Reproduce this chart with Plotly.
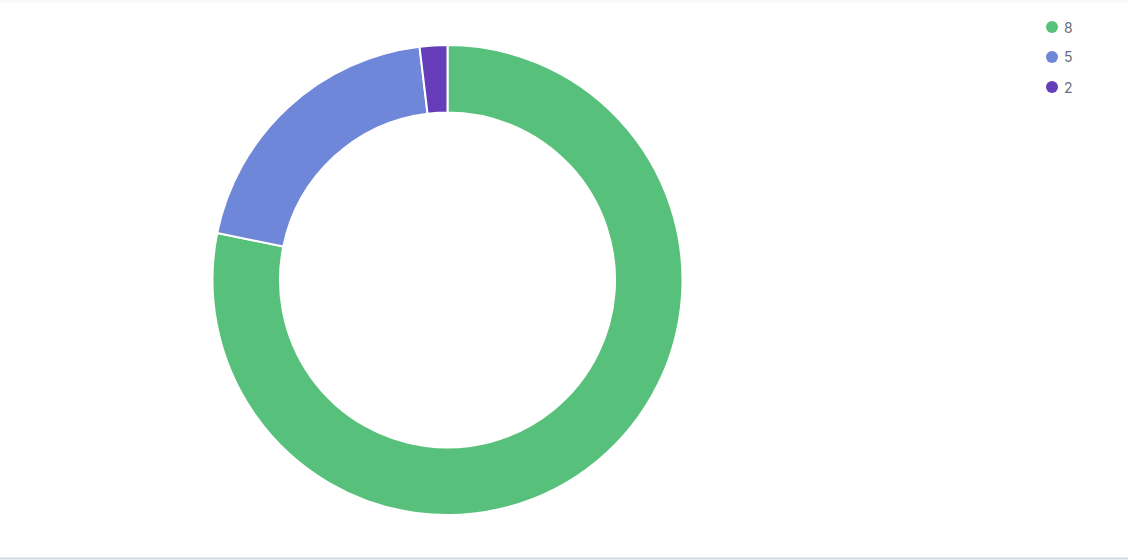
import plotly.graph_objects as go

labels = ["8", "5", "2"]
values = [78.2, 19.9, 1.9]
colors = ["#57C17B", "#6F87D8", "#663DB8"]

W, H = 1128, 560
cx, cy, r = 447.5, 280, 235

fig = go.Figure()
fig.add_trace(go.Pie(
    labels=labels, values=values, sort=False, direction="clockwise", rotation=0,
    hole=0.713, marker=dict(colors=colors, line=dict(color="white", width=2)),
    textinfo="none", hoverinfo="label+value", showlegend=False,
    domain=dict(x=[(cx - r) / W, (cx + r) / W], y=[(H - cy - r) / H, (H - cy + r) / H]),
))

shapes = [
    dict(type="rect", xref="paper", yref="paper", x0=0, x1=1, y0=1 - 3 / H, y1=1,
         fillcolor="#F8F9FC", line=dict(width=0), layer="below"),
    dict(type="line", xref="paper", yref="paper", x0=0, x1=1, y0=1.5 / H, y1=1.5 / H,
         line=dict(color="#D3DAE6", width=2)),
]
annotations = []
for i, (lab, col) in enumerate(zip(labels, colors)):
    yc = 27 + 30 * i
    shapes.append(dict(type="circle", xref="paper", yref="paper",
                       x0=(1052 - 6) / W, x1=(1052 + 6) / W,
                       y0=1 - (yc + 6) / H, y1=1 - (yc - 6) / H,
                       fillcolor=col, line=dict(width=0)))
    annotations.append(dict(text=lab, xref="paper", yref="paper",
                            x=1062 / W, y=1 - yc / H, xanchor="left", yanchor="middle",
                            showarrow=False, font=dict(family="Inter, Open Sans, sans-serif",
                                                       size=14, color="#69707D")))

fig.update_layout(
    width=W, height=H, margin=dict(l=0, r=0, t=0, b=0),
    paper_bgcolor="white", plot_bgcolor="white",
    shapes=shapes, annotations=annotations, showlegend=False,
)
fig.write_html("out.html", config={"displayModeBar": False},
               post_script="document.body.style.margin='0';document.body.style.overflow='hidden';")
